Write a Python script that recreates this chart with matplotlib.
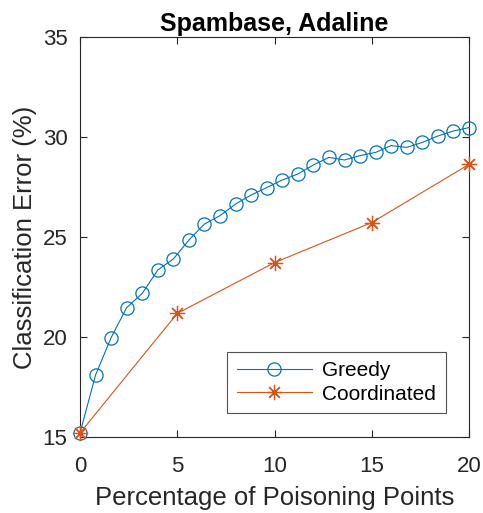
import matplotlib
matplotlib.use("Agg")
import matplotlib.pyplot as plt

plt.rcParams['font.family'] = ['Liberation Sans', 'DejaVu Sans']

greedy_x = [0, 0.8, 1.6, 2.4, 3.2, 4.0, 4.8, 5.6, 6.4, 7.2, 8.0, 8.8, 9.6, 10.4,
            11.2, 12.0, 12.8, 13.6, 14.4, 15.2, 16.0, 16.8, 17.6, 18.4, 19.2, 20.0]
greedy_y = [15.2, 18.1, 19.97, 21.47, 22.18, 23.35, 23.9, 24.85, 25.65, 26.07, 26.65,
            27.1, 27.47, 27.85, 28.15, 28.6, 28.98, 28.85, 29.07, 29.23, 29.57, 29.48,
            29.73, 30.05, 30.3, 30.47]
coord_x = [0, 5, 10, 15, 20]
coord_y = [15.2, 21.18, 23.72, 25.72, 28.63]

xticks = [0, 5, 10, 15, 20]
yticks = [15, 20, 25, 30, 35]

blue = '#0072BD'
orange = '#D95319'
axcol = '#262626'

fig = plt.figure(figsize=(4.83, 5.13), dpi=100)
ax = fig.add_axes([80/483, 76/513, 389/483, 400/513])

ax.plot(greedy_x, greedy_y, color=blue, lw=0.8, marker='o', ms=9.5,
        mfc='none', mec=blue, mew=0.9, label='Greedy', clip_on=False, zorder=3)
ax.plot(coord_x, coord_y, color=orange, lw=0.8, marker=(8, 2, 0), ms=11,
        mfc='none', mec=orange, mew=0.9, label='Coordinated', clip_on=False, zorder=3)

ax.set_xlim(0, 20)
ax.set_ylim(15, 35)
ax.set_xticks(xticks)
ax.set_yticks(yticks)
ax.tick_params(direction='in', top=True, right=True, length=5, width=0.8,
               colors=axcol, labelsize=16)
ax.tick_params(axis='x', pad=14)
ax.tick_params(axis='y', pad=9)
for s in ax.spines.values():
    s.set_color(axcol)
    s.set_linewidth(0.8)

ax.set_xlabel('Percentage of Poisoning Points', fontsize=18.5, color=axcol, labelpad=6)
ax.set_ylabel('Classification Error (%)', fontsize=18.5, color=axcol, labelpad=4)
ax.set_title('Spambase, Adaline', fontsize=18, fontweight='bold', color='black', pad=4)

leg = ax.legend(loc='center', fontsize=15,
                frameon=True, fancybox=False, edgecolor=axcol, handlelength=3.6,
                borderpad=0.45, labelspacing=0.2, handletextpad=0.5, borderaxespad=0)
leg.get_frame().set_linewidth(0.8)
leg.set_bbox_to_anchor((228/483, 99/513, 217/483, 63/513), transform=fig.transFigure)

fig.savefig('out.png', dpi=100)
